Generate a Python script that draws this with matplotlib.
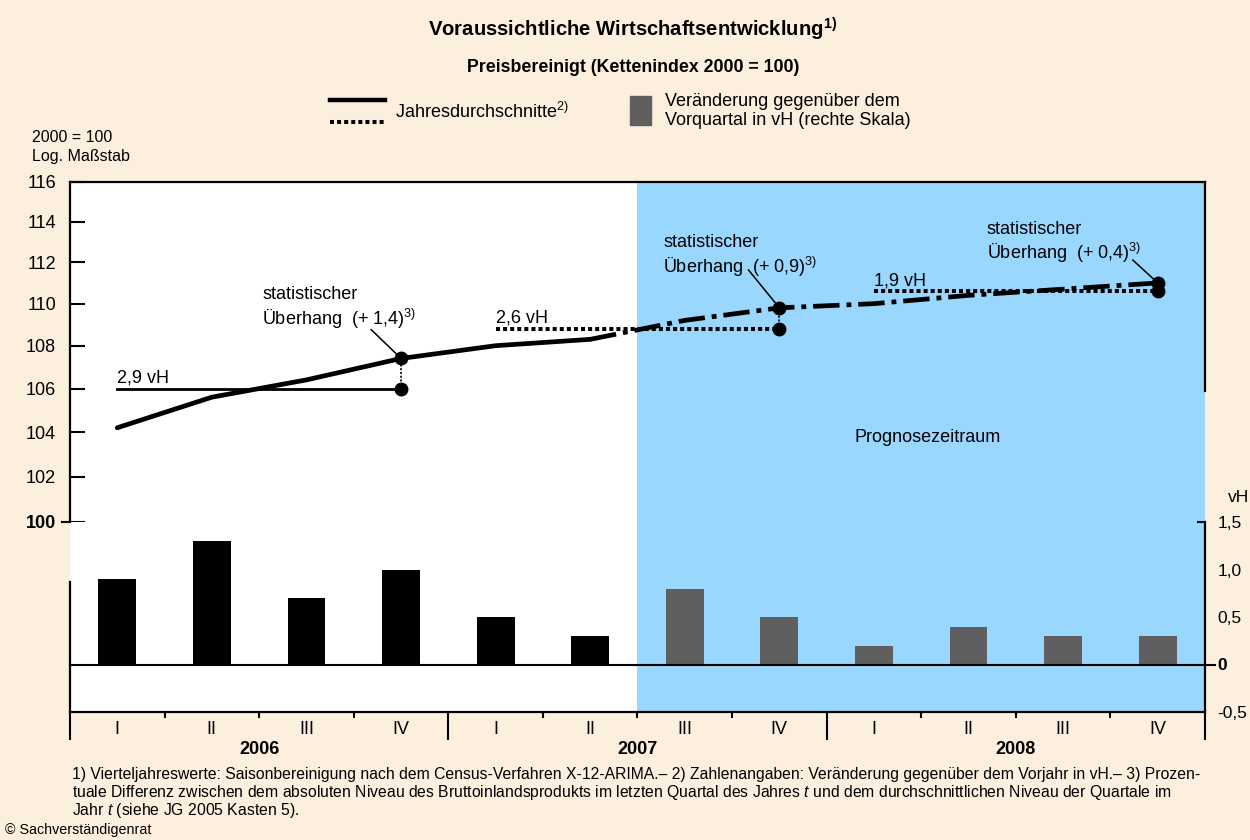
import numpy as np
import matplotlib
matplotlib.use("Agg")
import matplotlib.pyplot as plt
from matplotlib.lines import Line2D
from matplotlib.patches import Rectangle
from matplotlib.ticker import NullLocator

plt.rcParams.update({
    "font.family": "Liberation Sans",
    "font.size": 13,
    "mathtext.fontset": "custom",
    "mathtext.rm": "Liberation Sans",
    "mathtext.it": "Liberation Sans:italic",
    "mathtext.default": "regular",
    "lines.scale_dashes": False,
})

quarters = ["I", "II", "III", "IV"] * 3
years = ["2006", "2007", "2008"]
index_values = [104.2, 105.6, 106.4, 107.4, 108.0, 108.3, 109.2, 109.8, 110.0, 110.4, 110.7, 111.0]
change_prev_q = [0.9, 1.3, 0.7, 1.0, 0.5, 0.3, 0.8, 0.5, 0.2, 0.4, 0.3, 0.3]
annual_avg = [106.0, 108.8, 110.6]
annual_growth = ["2,9", "2,6", "1,9"]
overhang = ["1,4", "0,9", "0,4"]
n_actual = 6  # Ist-Werte bis 2007 II

CREAM = "#fdefde"
BLUE = "#99d7fe"
GREY = "#5f5f5f"

W, H = 1250, 840
def fx(px): return px / W
def fy(py): return 1 - py / H

fig = plt.figure(figsize=(12.5, 8.4), dpi=100, facecolor=CREAM)

ax_top = fig.add_axes([fx(70), fy(522), fx(1205) - fx(70), fy(182) - fy(522)])
ax_bot = fig.add_axes([fx(70), fy(712), fx(1205) - fx(70), fy(522) - fy(712)])

x = np.arange(len(index_values))
for ax in (ax_top, ax_bot):
    ax.set_xlim(-0.5, 11.5)
    ax.set_facecolor("white")
    ax.axvspan(n_actual - 0.5, 11.5, color=BLUE, lw=0, zorder=0)
    for s in ax.spines.values():
        s.set_linewidth(1.6)

# ---- oberer Teil: Index, log. Maßstab
ax_top.set_yscale("log")
ax_top.set_ylim(100, 116)
ax_top.yaxis.set_minor_locator(NullLocator())
yt = list(range(100, 117, 2))
ax_top.set_yticks(yt)
ax_top.set_yticklabels([str(v) for v in yt])
ax_top.get_yticklabels()[0].set_fontweight("bold")
ax_top.tick_params(axis="y", direction="in", length=11, width=1.5, pad=10, labelsize=13)
ax_top.set_xticks([])
ax_top.spines["bottom"].set_visible(False)
ax_top.spines["right"].set_bounds(105.9, 116)

ax_top.plot(x[:n_actual], index_values[:n_actual], color="k", lw=3.4,
            solid_capstyle="round", zorder=4)
ax_top.plot(x[n_actual - 1:], index_values[n_actual - 1:], color="k", lw=3.4,
            linestyle=(0, (19, 5, 3.5, 5)), zorder=4)

# Jahresdurchschnitte + statistischer Überhang
text_off = [(-139, 50), (-116, 51), (-171, 40)]
lead_off = [(-30, 29), (-31, 38), (-25, 23)]
for i, avg in enumerate(annual_avg):
    q0, q3 = 4 * i, 4 * i + 3
    if i == 0:
        ax_top.plot([x[q0], x[q3]], [avg, avg], color="k", lw=2.0, zorder=3)
    else:
        ax_top.plot([x[q0], x[q3]], [avg, avg], color="k", lw=2.9,
                    linestyle=(0, (2.9, 2.2)), zorder=3)
    ax_top.annotate(f"{annual_growth[i]} vH", xy=(x[q0], avg), xytext=(0, 2),
                    textcoords="offset pixels", ha="left", va="bottom", fontsize=13)
    ax_top.plot([x[q3], x[q3]], [avg, index_values[q3]], color="k", lw=1.2,
                linestyle=(0, (1.5, 1.2)), zorder=3)
    ax_top.plot([x[q3], x[q3]], [avg, index_values[q3]], "o", color="k", ms=9, zorder=5)
    ax_top.annotate("statistischer\nÜberhang  (+ " + overhang[i] + ")$^{3)}$",
                    xy=(x[q3], index_values[q3]), xytext=text_off[i],
                    textcoords="offset pixels", ha="left", va="center", fontsize=13)
    ax_top.annotate("", xy=(x[q3], index_values[q3]), xytext=lead_off[i],
                    textcoords="offset pixels",
                    arrowprops=dict(arrowstyle="-", color="k", lw=1.1, shrinkA=0, shrinkB=4))

ax_top.text(0.756, 0.25, "Prognosezeitraum", transform=ax_top.transAxes,
            ha="center", va="center", fontsize=13)

# ---- unterer Teil: Veränderung gegenüber Vorquartal
colors = ["k"] * n_actual + [GREY] * (len(change_prev_q) - n_actual)
ax_bot.bar(x, change_prev_q, width=0.4, color=colors, zorder=2)
ax_bot.set_ylim(-0.5, 1.5)
ax_bot.axhline(0, xmin=0, xmax=1 + 10 / 1135, color="k", lw=1.5, clip_on=False, zorder=3)
ax_bot.spines["top"].set_visible(False)
ax_bot.spines["left"].set_bounds(-0.5, 0.87)

ax_bot.yaxis.tick_right()
rt = [-0.5, 0, 0.5, 1.0, 1.5]
ax_bot.set_yticks(rt)
ax_bot.set_yticklabels(["-0,5", "0", "0,5", "1,0", "1,5"])
ax_bot.get_yticklabels()[1].set_fontweight("bold")
ax_bot.tick_params(axis="y", length=0, pad=9, labelsize=12.5)

ax_bot.set_xticks([-0.5, 3.5, 7.5, 11.5])
ax_bot.set_xticks(np.arange(-0.5, 12, 1), minor=True)
ax_bot.set_xticklabels([])
ax_bot.tick_params(axis="x", which="major", length=20, width=1.5, direction="out")
ax_bot.tick_params(axis="x", which="minor", length=4.5, width=1.5, direction="out")

tr = ax_bot.get_xaxis_transform()
for i, q in enumerate(quarters):
    ax_bot.text(x[i], -18 / 190, q, transform=tr, ha="center", va="center", fontsize=13)
for i, yr in enumerate(years):
    ax_bot.text(4 * i + 1.5, -38 / 190, yr, transform=tr, ha="center", va="center",
                fontsize=13, fontweight="bold")

# kleine Zusatzstriche
fig.add_artist(Line2D([fx(62), fx(70)], [fy(522), fy(522)], color="k", lw=1.5))
fig.add_artist(Line2D([fx(1198), fx(1205)], [fy(522), fy(522)], color="k", lw=1.5))
fig.text(fx(1228), fy(497), "vH", ha="left", va="center", fontsize=12.5)

# ---- Titel, Legende, Beschriftungen
fig.text(fx(633), fy(29), "Voraussichtliche Wirtschaftsentwicklung$^{1)}$",
         ha="center", va="center", fontsize=14.6, fontweight="bold")
fig.text(fx(633), fy(68), "Preisbereinigt (Kettenindex 2000 = 100)",
         ha="center", va="center", fontsize=12.8, fontweight="bold")

fig.add_artist(Line2D([fx(330), fx(385)], [fy(100), fy(100)], color="k", lw=3.2))
fig.add_artist(Line2D([fx(330), fx(385)], [fy(122), fy(122)], color="k", lw=2.9,
                      linestyle=(0, (2.9, 2.2))))
fig.text(fx(395), fy(112), "Jahresdurchschnitte$^{2)}$", ha="left", va="center", fontsize=13)
fig.add_artist(Rectangle((fx(630), fy(125)), fx(21), fy(96) - fy(125), color=GREY,
                         transform=fig.transFigure))
fig.text(fx(665), fy(111), "Veränderung gegenüber dem\nVorquartal in vH (rechte Skala)",
         ha="left", va="center", fontsize=13, linespacing=1.15)

fig.text(fx(32), fy(138), "2000 = 100", ha="left", va="center", fontsize=11.5)
fig.text(fx(32), fy(157), "Log. Maßstab", ha="left", va="center", fontsize=11.5)

foot = [
    "1) Vierteljahreswerte: Saisonbereinigung nach dem Census-Verfahren X-12-ARIMA.– "
    "2) Zahlenangaben: Veränderung gegenüber dem Vorjahr in vH.– 3) Prozen-",
    "tuale Differenz zwischen dem absoluten Niveau des Bruttoinlandsprodukts im letzten "
    "Quartal des Jahres $\\mathit{t}$ und dem durchschnittlichen Niveau der Quartale im",
    "Jahr $\\mathit{t}$ (siehe JG 2005 Kasten 5).",
]
for k, line in enumerate(foot):
    fig.text(fx(72), fy(775 + 18 * k), line, ha="left", va="center", fontsize=11.3)
fig.text(fx(5), fy(830), "© Sachverständigenrat", ha="left", va="center", fontsize=10.3)

fig.savefig("out.png", dpi=100, facecolor=CREAM)
